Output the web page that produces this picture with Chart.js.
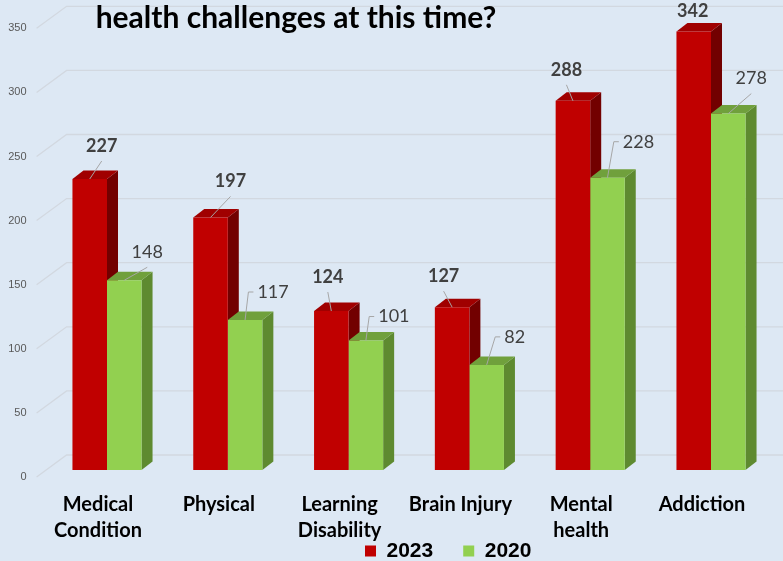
<!DOCTYPE html>
<html>
<head>
<meta charset="utf-8">
<script src="https://cdn.jsdelivr.net/npm/chart.js@4"></script>
<style>
  html, body { margin: 0; padding: 0; background: #dde8f4; }
  #wrap { width: 783px; height: 561px; position: relative; }
</style>
</head>
<body>
<div id="wrap"><canvas id="chart"></canvas></div>
<script>
// data
var categories = [["Medical", "Condition"], ["Physical"], ["Learning", "Disability"], ["Brain Injury"], ["Mental", "health"], ["Addiction"]];
var seriesNames = ["2023", "2020"];
var values2023 = [227, 197, 124, 127, 288, 342];
var values2020 = [148, 117, 101, 82, 228, 278];
var titleText = "health challenges at this time?";

// label placement (offset from the top centre of each bar front)
var labelShift = [
  [[12, -33], [20, -36], [-3.5, -34], [-8.5, -31], [-6.5, -31], [-1, -20]],
  [[23, -28], [28, -28], [28, -24], [28, -28], [31, -36], [23, -35]]
];
var leaderKind = [
  ["line", "line", "line", "line", "line", "none"],
  ["line", "elbow", "elbow", "elbow", "elbow", "line"]
];

// 3d look
var depthX = 11, depthY = -8.5;
var faceColors = [
  { front: "#c00000", top: "#a00000", side: "#720000" },
  { front: "#92d050", top: "#70a03c", side: "#5e8a30" }
];
var legendPad = 30;

var backWall = {
  id: "backWall",
  beforeDatasetsDraw: function (chart) {
    var ctx = chart.ctx;
    var y = chart.scales.y;
    var left = chart.chartArea.left;
    ctx.save();
    ctx.strokeStyle = "#d2d8e0";
    ctx.lineWidth = 1.3;
    y.ticks.forEach(function (t) {
      var yf = y.getPixelForValue(t.value);
      ctx.beginPath();
      ctx.moveTo(left - 10, yf + 7);
      ctx.lineTo(left + 20, yf - 15);
      ctx.lineTo(chart.width, yf - 15);
      ctx.stroke();
    });
    ctx.restore();

    // side and top faces, drawn before fronts
    ctx.save();
    for (var i = 0; i < categories.length; i++) {
      for (var d = 0; d < 2; d++) {
        var bar = chart.getDatasetMeta(d).data[i];
        var l = bar.x - bar.width / 2, r = bar.x + bar.width / 2;
        var top = bar.y, bottom = bar.base;
        ctx.fillStyle = faceColors[d].side;
        ctx.beginPath();
        ctx.moveTo(r, bottom);
        ctx.lineTo(r + depthX, bottom + depthY);
        ctx.lineTo(r + depthX, top + depthY);
        ctx.lineTo(r, top);
        ctx.closePath();
        ctx.fill();
        ctx.fillStyle = faceColors[d].top;
        ctx.beginPath();
        ctx.moveTo(l, top);
        ctx.lineTo(l + depthX, top + depthY);
        ctx.lineTo(r + depthX, top + depthY);
        ctx.lineTo(r, top);
        ctx.closePath();
        ctx.fill();
      }
    }
    ctx.restore();
  }
};

var valueLabels = {
  id: "valueLabels",
  afterDatasetsDraw: function (chart) {
    var ctx = chart.ctx;
    ctx.save();
    ctx.textAlign = "center";
    ctx.textBaseline = "middle";
    for (var d = 0; d < 2; d++) {
      var meta = chart.getDatasetMeta(d);
      var vals = chart.data.datasets[d].data;
      ctx.font = (d == 0 ? "bold " : "") + "18px Lato";
      for (var i = 0; i < vals.length; i++) {
        var bar = meta.data[i];
        var tx = bar.x + labelShift[d][i][0];
        var ty = bar.y + labelShift[d][i][1];
        var txt = String(vals[i]);
        var w = ctx.measureText(txt).width;
        ctx.strokeStyle = "#a6a6a6";
        ctx.lineWidth = 1;
        if (leaderKind[d][i] == "line") {
          ctx.beginPath();
          ctx.moveTo(tx, ty + 15);
          ctx.lineTo(bar.x, bar.y);
          ctx.stroke();
        } else if (leaderKind[d][i] == "elbow") {
          ctx.beginPath();
          ctx.moveTo(tx - w / 2 - 4, ty);
          ctx.lineTo(tx - w / 2 - 9, ty);
          ctx.lineTo(bar.x, bar.y);
          ctx.stroke();
        }
        ctx.fillStyle = "#404040";
        ctx.fillText(txt, tx, ty);
      }
    }
    ctx.restore();
  },
  afterDraw: function (chart) {
    // title, only its last line is in view
    var ctx = chart.ctx;
    ctx.save();
    ctx.font = "bold 30px Lato";
    ctx.fillStyle = "#000";
    ctx.textAlign = "center";
    ctx.textBaseline = "alphabetic";
    ctx.fillText(titleText, 296, 28);
    ctx.restore();
  },
  afterLayout: function (chart) {
    // move legend under the middle bars
    var lg = chart.legend;
    var dy = (551 - 10.5 - legendPad) - lg.top;
    lg.top += dy;
    lg.bottom += dy;
    lg.left = 365 - legendPad;
  }
};

var ctx = document.getElementById("chart").getContext("2d");
var myChart = new Chart(ctx, {
  type: "bar",
  data: {
    labels: categories,
    datasets: [
      {
        label: seriesNames[0],
        data: values2023,
        backgroundColor: faceColors[0].front,
        borderWidth: 0,
        barPercentage: 1,
        categoryPercentage: 0.572
      },
      {
        label: seriesNames[1],
        data: values2020,
        backgroundColor: faceColors[1].front,
        borderWidth: 0,
        barPercentage: 1,
        categoryPercentage: 0.572
      }
    ]
  },
  options: {
    responsive: true,
    maintainAspectRatio: false,
    animation: false,
    layout: { padding: { left: 7, right: 11.6, top: 21.3, bottom: -(21 + legendPad + 10) } },
    scales: {
      x: {
        grid: { display: false, drawTicks: false },
        border: { display: false },
        ticks: {
          color: "#000",
          font: { family: "Lato", size: 20, weight: "bold", lineHeight: 1.3 },
          padding: 22,
          labelOffset: -9,
          maxRotation: 0,
          autoSkip: false
        },
        afterFit: function (scale) { scale.height = 91; }
      },
      y: {
        min: 0,
        max: 350,
        grid: { display: false, drawTicks: false },
        border: { display: false },
        ticks: {
          stepSize: 50,
          color: "#595959",
          font: { family: "Liberation Sans", size: 11 },
          padding: 20,
          labelOffset: 7
        },
        afterFit: function (scale) {
          scale.width = 39.6;
          scale.paddingTop = 0;
          scale.paddingBottom = 0;
        }
      }
    },
    plugins: {
      legend: {
        position: "bottom",
        align: "start",
        labels: {
          color: "#000",
          font: { family: "Liberation Sans", size: 21, weight: "bold" },
          boxWidth: 11,
          boxHeight: 11,
          padding: legendPad
        }
      },
      tooltip: { enabled: false }
    }
  },
  plugins: [backWall, valueLabels]
});
</script>
</body>
</html>
